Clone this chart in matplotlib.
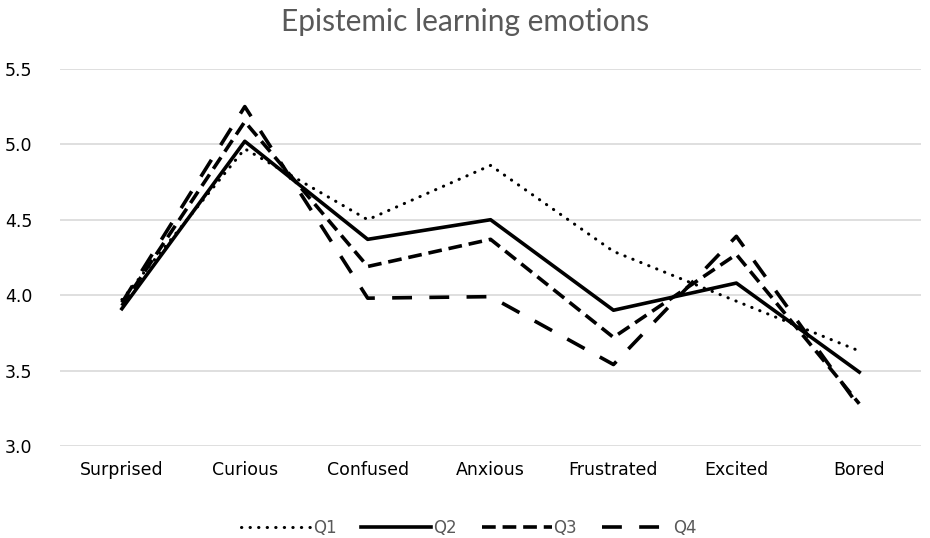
import matplotlib
matplotlib.use('Agg')
import matplotlib.pyplot as plt

categories=['Surprised','Curious','Confused','Anxious','Frustrated','Excited','Bored']
q1=[3.97,4.97,4.50,4.86,4.29,3.96,3.63]
q2=[3.91,5.02,4.37,4.50,3.90,4.08,3.49]
q3=[3.93,5.15,4.19,4.37,3.72,4.27,3.28]
q4=[3.95,5.25,3.98,3.99,3.54,4.39,3.26]
yticks=[3.0,3.5,4.0,4.5,5.0,5.5]

fig=plt.figure(figsize=(9.3,5.38),dpi=100)
ax=fig.add_axes([0.065,0.171,0.925,0.701])

x=range(len(categories))
ax.plot(x,q1,color='black',lw=2.2,linestyle=(0,(0.1,2.7)),dash_capstyle='round',label='Q1')
ax.plot(x,q2,color='black',lw=2.6,linestyle='-',label='Q2')
ax.plot(x,q3,color='black',lw=2.6,linestyle=(0,(3.8,1.9)),label='Q3')
ax.plot(x,q4,color='black',lw=2.6,linestyle=(0,(5.5,4.8)),label='Q4')

ax.set_xlim(-0.5,6.5)
ax.set_ylim(3.0,5.5)
ax.set_yticks(yticks)
ax.set_yticklabels(['%.1f'%v for v in yticks])
ax.set_xticks(list(x))
ax.set_xticklabels(categories)
ax.yaxis.grid(True,color='#d9d9d9',lw=1.2)
ax.set_axisbelow(True)
for s in ax.spines.values():
	s.set_visible(False)
ax.tick_params(length=0,labelsize=12.5,colors='black')
ax.tick_params(axis='x',pad=11)
ax.tick_params(axis='y',pad=20)

fig.suptitle('Epistemic learning emotions',x=0.5,y=0.985,fontsize=21.5,color='#595959',family='Lato')
leg=ax.legend(loc='lower center',bbox_to_anchor=(0.475,-0.28),ncol=4,frameon=False,
	handlelength=4.2,columnspacing=1.5,handletextpad=0.1,fontsize=12)
for t in leg.get_texts():
	t.set_color('#595959')

fig.savefig('out.png',dpi=100)
